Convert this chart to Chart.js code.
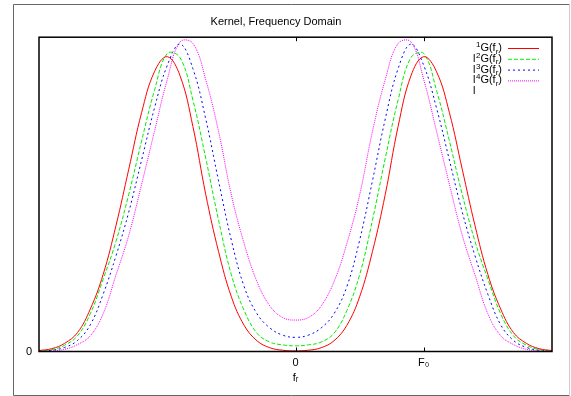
<!DOCTYPE html>
<html><head><meta charset="utf-8">
<script src="https://cdn.jsdelivr.net/npm/chart.js@4"></script>
<style>html,body{margin:0;padding:0;background:#fff}canvas{display:block}</style>
</head><body>
<canvas id="c" width="571" height="396"></canvas>
<script>
// frequency axis, in units of F0
const xs = [-2.0,-1.9,-1.8,-1.7,-1.6,-1.5,-1.4,-1.3,-1.2,-1.1,-1.0,-0.9,-0.8,-0.7,-0.6,-0.5,-0.4,-0.3,-0.2,-0.1,0.0,
            0.1,0.2,0.3,0.4,0.5,0.6,0.7,0.8,0.9,1.0,1.1,1.2,1.3,1.4,1.5,1.6,1.7,1.8,1.9,2.0];
const g1 = [0.003,0.009,0.026,0.06,0.135,0.245,0.40,0.58,0.76,0.89,0.938,0.877,0.716,0.50,0.318,0.174,0.083,0.034,0.012,0.004,0.002,
            0.004,0.012,0.034,0.083,0.174,0.318,0.50,0.716,0.877,0.938,0.89,0.76,0.58,0.40,0.245,0.135,0.06,0.026,0.009,0.003];
const g2 = [0.002,0.006,0.02,0.05,0.12,0.23,0.35,0.50,0.67,0.83,0.948,0.935,0.80,0.615,0.418,0.244,0.13,0.058,0.03,0.021,0.018,
            0.021,0.03,0.058,0.13,0.244,0.418,0.615,0.80,0.935,0.948,0.83,0.67,0.50,0.35,0.23,0.12,0.05,0.02,0.006,0.002];
const g3 = [0.001,0.004,0.013,0.035,0.085,0.182,0.304,0.444,0.609,0.774,0.91,0.978,0.90,0.74,0.543,0.354,0.206,0.12,0.075,0.052,0.045,
            0.052,0.075,0.12,0.206,0.354,0.543,0.74,0.90,0.978,0.91,0.774,0.609,0.444,0.304,0.182,0.085,0.035,0.013,0.004,0.001];
const g4 = [0.0,0.002,0.007,0.022,0.05,0.12,0.243,0.37,0.532,0.70,0.865,0.985,0.98,0.865,0.70,0.498,0.343,0.222,0.145,0.108,0.10,
            0.108,0.145,0.222,0.343,0.498,0.70,0.865,0.98,0.985,0.865,0.70,0.532,0.37,0.243,0.12,0.05,0.022,0.007,0.002,0.0];
const seriesIdx = ['1','2','3','4'];
const seriesLabels = ['l\u00B9G(f\u1D63)','l\u00B2G(f\u1D63)','l\u00B3G(f\u1D63)','l\u2074G(f\u1D63)'];
const xTickValues = [0, 1];
const xTickLabels = ['0', 'F\u2080'];
const yTickValues = [0];
const yTickLabels = ['0'];
const titleText = 'Kernel, Frequency Domain';
const xTitle = 'f\u1D63';

const FONT = '"Liberation Sans", Arial, sans-serif';
Chart.defaults.font.family = FONT;
Chart.defaults.font.size = 11;
Chart.defaults.color = '#000';

const colors = ['#ff0000', '#00ee00', '#0000ff', '#ff00ff'];
const dashes = [[], [4, 2], [2, 3], [1, 1]];
const series = [g1, g2, g3, g4];

const frame = {
  id: 'frame',
  afterDraw(chart) {
    const ctx = chart.ctx, a = chart.chartArea, xs_ = chart.scales.x;
    ctx.save();
    // outer box
    ctx.lineWidth = 1;
    ctx.strokeStyle = '#666';
    ctx.beginPath();
    ctx.moveTo(569.5, 4.5); ctx.lineTo(13.5, 4.5); ctx.lineTo(13.5, 395.5); ctx.lineTo(569.5, 395.5);
    ctx.stroke();
    ctx.strokeStyle = '#ccc';
    ctx.beginPath(); ctx.moveTo(569.5, 4.5); ctx.lineTo(569.5, 395.5); ctx.stroke();
    // plot border
    ctx.strokeStyle = '#000';
    ctx.lineWidth = 1.5;
    ctx.strokeRect(a.left, a.top, a.right - a.left, a.bottom - a.top);
    // inward ticks
    ctx.lineWidth = 1;
    xTickValues.forEach(v => {
      const px = Math.round(xs_.getPixelForValue(v)) + 0.5;
      ctx.beginPath();
      ctx.moveTo(px, a.bottom); ctx.lineTo(px, a.bottom - 4);
      ctx.moveTo(px, a.top); ctx.lineTo(px, a.top + 4);
      ctx.stroke();
    });
    // legend
    const big = '11px ' + FONT, small = '8px ' + FONT;
    chart.data.datasets.forEach((ds, i) => {
      const ly = 48 + 10.8 * i;
      ctx.strokeStyle = ds.borderColor;
      ctx.lineWidth = 1;
      ctx.setLineDash(ds.borderDash || []);
      ctx.beginPath(); ctx.moveTo(508, ly + 0.5); ctx.lineTo(539, ly + 0.5); ctx.stroke();
      ctx.setLineDash([]);
      ctx.fillStyle = '#000';
      ctx.textAlign = 'left';
      ctx.textBaseline = 'alphabetic';
      const base = ly + 3;
      ctx.font = big;
      const wG = ctx.measureText('G(f').width, wP = ctx.measureText(')').width;
      ctx.font = small;
      const wD = ctx.measureText(seriesIdx[i]).width, wr = ctx.measureText('r').width;
      let x = 502 - (wD + wG + wr + wP);
      ctx.fillText(seriesIdx[i], x, base - 4);
      ctx.font = big;
      ctx.fillText('l', x - 3, base + 10.8);
      x += wD;
      ctx.fillText('G(f', x, base); x += wG;
      ctx.font = small;
      ctx.fillText('r', x, base + 2.5); x += wr;
      ctx.font = big;
      ctx.fillText(')', x, base);
    });
    ctx.restore();
  }
};

new Chart(document.getElementById('c'), {
  type: 'line',
  data: {
    datasets: series.map((s, i) => ({
      label: seriesLabels[i],
      data: xs.map((x, j) => ({x: x, y: s[j]})),
      borderColor: colors[i],
      borderDash: dashes[i],
      borderWidth: 1,
      pointRadius: 0,
      tension: 0.4,
      fill: false
    }))
  },
  options: {
    responsive: false,
    animation: false,
    devicePixelRatio: 1,
    layout: {padding: {left: 0, right: 19, top: 0, bottom: 0}},
    plugins: {
      legend: {display: false},
      tooltip: {enabled: false},
      title: {display: true, text: titleText, color: '#000',
              font: {size: 11, weight: 'normal'}, padding: {top: 15, bottom: 9}}
    },
    scales: {
      x: {
        type: 'linear', min: -2, max: 2,
        grid: {display: false, drawTicks: false}, border: {display: false},
        afterBuildTicks: s => { s.ticks = xTickValues.map(v => ({value: v})); },
        afterFit: s => { s.height = 44.5; },
        ticks: {autoSkip: false, maxRotation: 0, padding: 5, color: '#000',
                callback: (v) => xTickLabels[xTickValues.indexOf(v)]},
        title: {display: true, text: xTitle, color: '#000', font: {size: 11}, padding: {top: 2, bottom: 11}}
      },
      y: {
        type: 'linear', min: 0, max: 1,
        grid: {display: false, drawTicks: false}, border: {display: false},
        afterBuildTicks: s => { s.ticks = yTickValues.map(v => ({value: v})); },
        afterFit: s => { s.width = 39; },
        ticks: {padding: 7, color: '#000', callback: (v) => yTickLabels[yTickValues.indexOf(v)]}
      }
    }
  },
  plugins: [frame]
});
</script>
</body></html>
